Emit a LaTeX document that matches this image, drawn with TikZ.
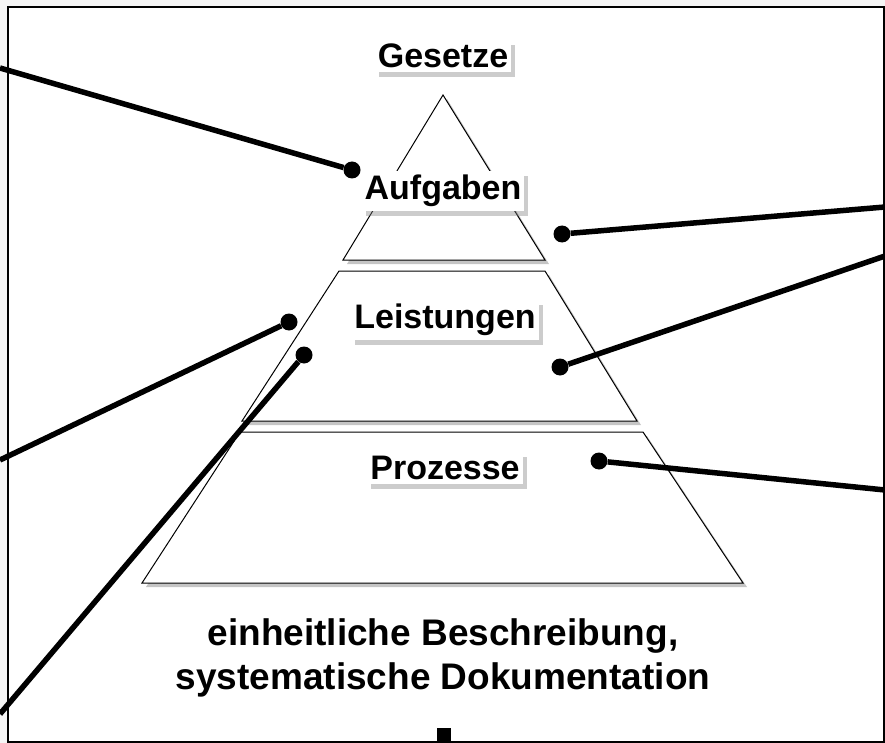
\documentclass[tikz,border=0pt]{standalone}
\usepackage{fontspec}
\setmainfont{Liberation Sans}
\usetikzlibrary{shadows}

\begin{document}
\begin{tikzpicture}[x=1pt, y=-1pt,
  layer/.style={draw=black, line width=1pt, fill=white,
    drop shadow={shadow xshift=4pt, shadow yshift=-4pt, opacity=0.45}},
  tag/.style={fill=white, inner xsep=3pt, inner ysep=4pt,
    font=\fontsize{34}{40}\selectfont\bfseries,
    drop shadow={shadow xshift=4pt, shadow yshift=-5pt, opacity=0.4}},
  pin/.style={circle, fill=black, inner sep=0pt, minimum size=17pt},
  wire/.style={line width=5.5pt}]
\useasboundingbox (0,0) rectangle (885,743);
\fill [gray!8] (0,0) rectangle (885,743);
\draw [fill=white, line width=2pt] (8,7) rectangle (884,742);

% pyramid
\draw [layer] (443,95) -- (545,260) -- (343,260) -- cycle;
\draw [layer] (339,271) -- (545,271) -- (637,421) -- (242,421) -- cycle;
\draw [layer] (240,432) -- (643,432) -- (743,583) -- (142,583) -- cycle;

\node [tag] (gesetze) at (443,56) {Gesetze};
\node [tag] (aufgaben) at (443,191) {Aufgaben};
\node [tag] (leistungen) at (445,320) {Leistungen};
\node [tag] (prozesse) at (445,468) {Prozesse};

\node [align=center, font=\fontsize{37}{44}\selectfont\bfseries] (doku) at (443,658)
  {einheitliche Beschreibung,\\systematische Dokumentation};
\node [fill=black, inner sep=0pt, minimum width=14pt, minimum height=14pt] (stub) at (444,735) {};

% connectors
\node [pin] (p1) at (352,170) {};
\node [pin] (p2) at (562,234) {};
\node [pin] (p3) at (560,367) {};
\node [pin] (p4) at (599,461) {};
\node [pin] (p5) at (289,322) {};
\node [pin] (p6) at (304,355) {};
\coordinate (e1) at (0,68);
\coordinate (e2) at (885,207);
\coordinate (e3) at (885,256);
\coordinate (e4) at (885,490);
\coordinate (e5) at (0,460);
\coordinate (e6) at (0,714);
\draw [wire] (e1) -- (p1);
\draw [wire] (e2) -- (p2);
\draw [wire] (e3) -- (p3);
\draw [wire] (e4) -- (p4);
\draw [wire] (e5) -- (p5);
\draw [wire] (e6) -- (p6);
\end{tikzpicture}
\end{document}
